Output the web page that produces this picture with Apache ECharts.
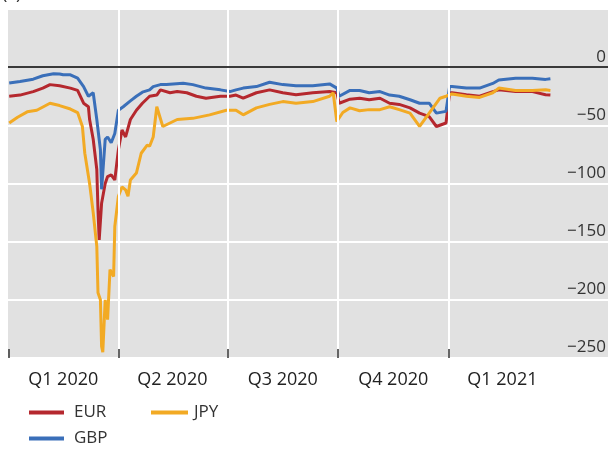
<!DOCTYPE html>
<html>
<head>
<meta charset="utf-8">
<script src="https://cdn.jsdelivr.net/npm/echarts@6/dist/echarts.min.js"></script>
<style>html,body{margin:0;padding:0;background:#fff}#c{width:609px;height:450px}</style>
</head>
<body>
<div id="c"></div>
<script>
// days since 1 Jan 2020
var days = [0,7,9,15,20,23,28,34,37,42,45,51,57,61,62,63,66,67,70,73,74,75,76,77,78,80,82,84,85,87,88,91,94,95,97,99,101,106,110,111,115,117,120,123,126,128,131,134,140,145,148,153,156,164,167,176,181,184,189,195,206,217,228,239,253,267,270,273,275,278,284,292,300,309,317,325,334,342,350,356,359,364,367,369,381,392,403,408,422,436,447,451];
var eur = [-25,null,-24,null,-21,null,-18,-15,null,-16,null,-18,-20,null,-31,null,-34,-45,-62,-88,-123,-148.5,null,-117,null,-100,-94,null,-92.6,null,-97,-71,-54,null,-60,null,-45,-37,null,-31,null,-25,null,-24,-19.5,null,null,-22,-21,null,-22,null,-25,-26.7,null,-25,null,-25,-24,-26.7,-22,-19.5,-22,-23.7,-22,-21,null,-22,-31,null,-27.5,-26.7,-28,-26.7,-31,-32,-35,-39.5,-42.5,-51,null,-48,-22,-22,-23.7,-25,-21,-19.5,-21,-21,-23.7,-24];
var gbp = [-13.7,null,-12.3,null,-10.3,null,-7.4,null,-5.7,-5.8,-6.5,-6.6,-9.5,null,-16.7,null,-25,-25,-22,-45,null,null,-71,-105,null,-62,-60,null,-65,null,-57,-37,null,-34,null,null,-29,-25,null,-21.5,null,-19.5,-16.7,null,-15,null,-15,null,null,-13.8,null,-15,null,-18,null,-19.5,null,-21,-19.5,-18,-16.7,-13,-15,-16,-16,-14.4,null,-18,-25,null,-20,-20,-22,-21,-24,-25,-28,-31,-31,-39.5,null,-38,-16.7,-16.7,-18,-18,-14,-11,-9.5,-9.5,-10.5,-10];
var jpy = [-48,-43,null,-38.4,null,-37,null,-31,null,-33,null,-36,-39,-51,null,-74,null,-100,-125,-154,-194,null,-200,-240,-245,-200,-217,-174,null,-180,-137,-111,-103,null,-105.5,-111,-97,-91,-74,null,-67,-68,-60,-34,null,-51,null,-48,-45,null,null,-44,null,null,-41,null,-37,-37,-37,-41,-35,-32,-29.6,-31,-29.6,-25,-22,-46.7,null,-39,-35,-37.5,-36.5,-36.5,-34,-36.5,-39.5,-51,-39.5,null,-26.7,-25,null,-23,-25,-26,-22,-18,-20,-20,-19.5,-20];
var quarterStarts = [0,91,182,274,366];
var quarterMids = [45,136,228,320,411];
var quarterLabels = ['Q1 2020','Q2 2020','Q3 2020','Q4 2020','Q1 2021'];

function pairs(v){ return days.map(function(d,i){ return [d, v[i]]; }); }
var FONT = 'Open Sans';
function legendText(p){ return {fontSize:17, color:'#333', fontFamily:FONT, padding:[0,0,0,p]}; }
var chart = echarts.init(document.getElementById('c'), null, {renderer:'canvas'});
chart.setOption({
  animation:false,
  textStyle:{fontFamily:FONT},
  graphic:[{type:'text', left:2, top:-15, style:{text:'(c)', font:'18px "Open Sans"', fill:'#333'}}],
  grid:{left:8, right:0, top:9, bottom:92, show:true, backgroundColor:'#e1e1e1', borderWidth:0},
  legend:[
    {data:['EUR'], left:29, top:404, padding:0, itemWidth:35, itemHeight:4, icon:'rect', textStyle:legendText(5)},
    {data:['GBP'], left:29, top:430, padding:0, itemWidth:35, itemHeight:4, icon:'rect', textStyle:legendText(5)},
    {data:['JPY'], left:151, top:404, padding:0, itemWidth:37, itemHeight:4, icon:'rect', textStyle:legendText(1)}
  ],
  xAxis:{type:'value', min:-1, max:499, z:10,
    axisLine:{show:false, onZero:false},
    splitLine:{show:false},
    axisTick:{show:true, inside:true, length:9, customValues:quarterStarts, lineStyle:{color:'#333', width:1.5}},
    axisLabel:{customValues:quarterMids, margin:13, fontSize:18, color:'#222', fontFamily:FONT,
      formatter:function(v){ var i=quarterMids.indexOf(v); return i>=0?quarterLabels[i]:''; }}
  },
  yAxis:{type:'value', position:'right', min:-250, max:50, interval:50,
    axisLine:{show:false}, axisTick:{show:false},
    splitLine:{show:true, lineStyle:{color:'#ffffff', width:2}},
    axisLabel:{inside:true, margin:2, fontSize:17, color:'#333', fontFamily:FONT, verticalAlign:'bottom', padding:[0,0,2,0],
      showMinLabel:true, hideOverlap:false,
      formatter:function(v){ return v > 0 ? '' : String(v).replace('-', '\u2212'); }}
  },
  series:[
    {type:'line', name:'_grid', data:[], z:1, silent:true,
     markLine:{silent:true, symbol:'none', label:{show:false},
       lineStyle:{color:'#ffffff', width:2, type:'solid'},
       data:quarterStarts.slice(1).map(function(q){ return {xAxis:q}; })}},
    {type:'line', name:'EUR', data:pairs(eur), connectNulls:true, showSymbol:false, z:3,
     lineStyle:{color:'#b5282e', width:3}, itemStyle:{color:'#b5282e'},
     markLine:{silent:true, symbol:'none', label:{show:false}, lineStyle:{color:'#3a3a3a', width:2, type:'solid'}, data:[{yAxis:0}]}},
    {type:'line', name:'GBP', data:pairs(gbp), connectNulls:true, showSymbol:false, z:3,
     lineStyle:{color:'#3a6fb9', width:3}, itemStyle:{color:'#3a6fb9'}},
    {type:'line', name:'JPY', data:pairs(jpy), connectNulls:true, showSymbol:false, z:3,
     lineStyle:{color:'#f2aa24', width:3}, itemStyle:{color:'#f2aa24'}}
  ]
});
</script>
</body>
</html>
